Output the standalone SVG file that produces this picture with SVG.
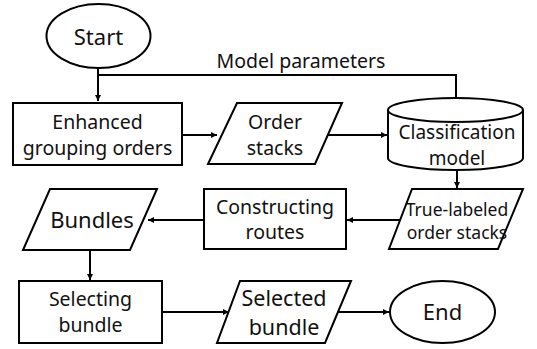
<svg xmlns="http://www.w3.org/2000/svg" width="537" height="349" viewBox="0 0 537 349">
<defs>
<marker id="ah" viewBox="0 0 10 10" refX="10" refY="5" markerWidth="6" markerHeight="6" orient="auto" markerUnits="userSpaceOnUse">
<path d="M0,0 L10,5 L0,10 z" fill="#000"/>
</marker>
<style>
.s{fill:#fff;stroke:#000;stroke-width:2}
.c{fill:none;stroke:#000;stroke-width:2}
text{font-family:"Noto Sans","Open Sans","DejaVu Sans",sans-serif;font-size:19.5px;fill:#111;text-anchor:middle}
.big{font-size:22px}
.sel{font-size:21.5px}
.cls{font-size:19px}
.sm{font-size:17.5px}
</style>
</defs>
<rect width="537" height="349" fill="#fff"/>
<g id="connectors">
<path class="c" d="M98,68 V101" marker-end="url(#ah)"/>
<path class="c" d="M456,98 V75 H98"/>
<path class="c" d="M182,135 H217" marker-end="url(#ah)"/>
<path class="c" d="M328,135 H387" marker-end="url(#ah)"/>
<path class="c" d="M457,170 V188" marker-end="url(#ah)"/>
<path class="c" d="M400,220 H347" marker-end="url(#ah)"/>
<path class="c" d="M204,220 H148" marker-end="url(#ah)"/>
<path class="c" d="M90,250 V280" marker-end="url(#ah)"/>
<path class="c" d="M162,312 H229" marker-end="url(#ah)"/>
<path class="c" d="M338,312 H389" marker-end="url(#ah)"/>
<text x="301" y="68">Model parameters</text>
</g>
<g id="start">
<ellipse class="s" cx="98.5" cy="36" rx="52" ry="32"/>
<text class="big" x="98.5" y="45">Start</text>
</g>
<g id="enhanced">
<rect class="s" x="13" y="103" width="169" height="62"/>
<text x="97.5" y="129">Enhanced</text>
<text x="97.5" y="155">grouping orders</text>
</g>
<g id="orderstacks">
<polygon class="s" points="237,103 342,103 315,164 208,164"/>
<text x="275" y="129">Order</text>
<text x="275" y="155">stacks</text>
</g>
<g id="classification">
<path class="s" d="M388,110 V158 A67.5,12 0 0 0 523,158 V110"/>
<ellipse class="s" cx="455.5" cy="110" rx="67.5" ry="12"/>
<text class="cls" x="457" y="139">Classification</text>
<text class="cls" x="457" y="165">model</text>
</g>
<g id="truelabeled">
<polygon class="s" points="412,189 523,189 498,249 389,249"/>
<text class="sm" x="457" y="216">True-labeled</text>
<text class="sm" x="457" y="239">order stacks</text>
</g>
<g id="constructing">
<rect class="s" x="204" y="189" width="142" height="60"/>
<text x="275" y="214">Constructing</text>
<text x="275" y="239">routes</text>
</g>
<g id="bundles">
<polygon class="s" points="50,189 157,189 130,250 23,250"/>
<text class="big" x="92" y="228">Bundles</text>
</g>
<g id="selecting">
<rect class="s" x="19" y="281" width="143" height="62"/>
<text x="90.5" y="306">Selecting</text>
<text x="90.5" y="332">bundle</text>
</g>
<g id="selected">
<polygon class="s" points="240,281 351,281 325,343 217,343"/>
<text class="sel" x="284" y="306">Selected</text>
<text class="sel" x="284" y="335">bundle</text>
</g>
<g id="end">
<ellipse class="s" cx="442.5" cy="312" rx="52.5" ry="31"/>
<text class="big" x="442.5" y="320">End</text>
</g>
</svg>
